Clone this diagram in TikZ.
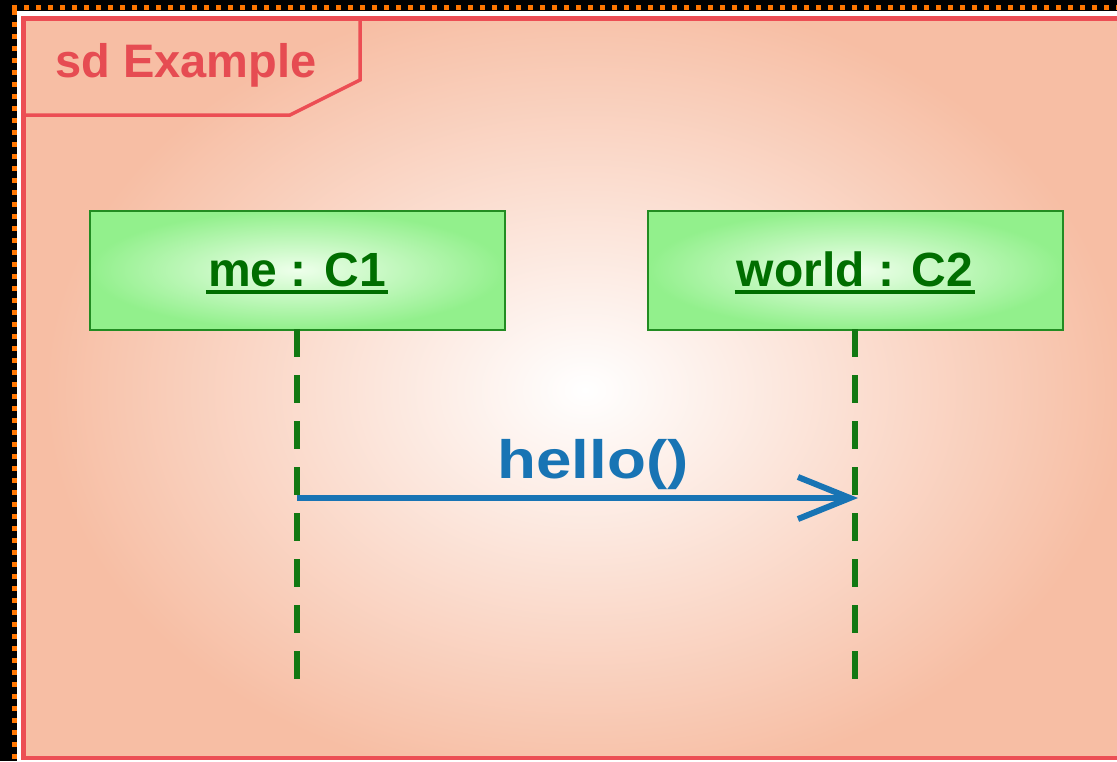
\documentclass[tikz,border=0pt]{standalone}
\usepackage{fontspec}
\setmainfont{Liberation Sans}
\usetikzlibrary{arrows.meta}
\definecolor{salmonbg}{RGB}{247,190,164}
\definecolor{framered}{RGB}{236,78,84}
\definecolor{tabtext}{RGB}{230,76,82}
\definecolor{boxgreen}{RGB}{146,240,140}
\definecolor{boxcenter}{RGB}{238,255,235}
\definecolor{boxborder}{RGB}{34,140,34}
\definecolor{txtgreen}{RGB}{0,110,0}
\definecolor{lifegreen}{RGB}{18,120,18}
\definecolor{msgblue}{RGB}{24,116,180}
\definecolor{dotorange}{RGB}{255,118,0}
\begin{document}
\begin{tikzpicture}[x=1pt,y=-1pt,
  dotline/.style={dotorange, line width=5pt, dash pattern=on 5pt off 7pt},
  objbox/.style={draw=boxborder, line width=2pt, inner color=boxcenter, outer color=boxgreen,
    minimum width=415pt, minimum height=119pt, inner sep=0pt},
  objtext/.style={text=txtgreen, font=\fontsize{48}{58}\selectfont\bfseries, inner sep=0pt, anchor=base},
  uline/.style={txtgreen, line width=4pt},
  lifeline/.style={lifegreen, line width=6.5pt, dash pattern=on 28pt off 18pt},
  msg/.style={msgblue, line width=6pt, -{Straight Barb[length=52pt, width=42pt, line width=6pt]}},
  msgtext/.style={text=msgblue, font=\fontsize{54}{64}\selectfont\bfseries, inner sep=0pt, anchor=base, xscale=1.18}]
\useasboundingbox (0,0) rectangle (1117,761);
\fill[black] (0,0) rectangle (1117,761);
\draw[dotline] (12,7.5) -- (1125,7.5);
\draw[dotline] (14.5,10) -- (14.5,770);
\fill[white] (17,11) rectangle (1130,770);
\begin{scope}
  \clip (23.5,18.5) rectangle (1145,758);
  \fill[salmonbg] (23.5,18.5) rectangle (1145,758);
  \shade[inner color=white, outer color=salmonbg] (585,390) ellipse (540 and 400);
\end{scope}
\draw[framered, line width=4.5pt] (23.5,18.5) rectangle (1145,758);
\draw[framered, line width=3.5pt] (23.5,115) -- (290,115) -- (360,80) -- (360,18.5);
\node[anchor=base west, text=tabtext, font=\fontsize{47}{56}\selectfont\bfseries, inner sep=0pt] (title) at (55,77) {sd Example};

\node[objbox] (b1) at (297,270) {};
\node[objbox] (b2) at (855.5,270) {};
\node[objtext] (t1) at (297,286) {me : C1};
\node[objtext] (t2) at (855,286) {world : C2};
\draw[uline] ([xshift=-2pt,yshift=-6pt]t1.base west) -- ([xshift=2pt,yshift=-6pt]t1.base east);
\draw[uline] ([xshift=-2pt,yshift=-6pt]t2.base west) -- ([xshift=2pt,yshift=-6pt]t2.base east);

\coordinate (l1top) at (297,329);
\coordinate (l1end) at (297,680);
\coordinate (l2top) at (855,329);
\coordinate (l2end) at (855,680);
\draw[lifeline] (l1top) -- (l1end);
\draw[lifeline] (l2top) -- (l2end);

\coordinate (m1) at (297,498);
\coordinate (m2) at (858,498);
\draw[msg] (m1) -- (m2);
\node[msgtext] (hello) at (593,478) {hello()};
\end{tikzpicture}
\end{document}
